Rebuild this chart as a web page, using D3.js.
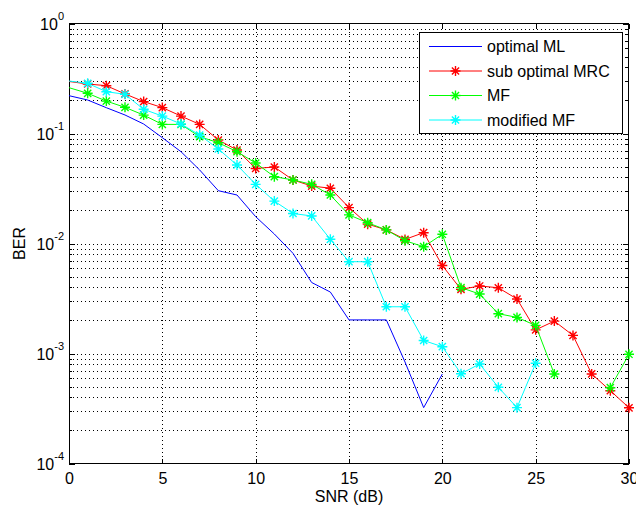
<!DOCTYPE html>
<html>
<head>
<meta charset="utf-8">
<script src="https://cdn.jsdelivr.net/npm/d3@7"></script>
<style>
html,body{margin:0;padding:0;background:#fff;}
svg{display:block;font-family:"Liberation Sans",Arial,sans-serif;}
</style>
</head>
<body>
<svg id="chart" width="636" height="513"></svg>
<script>
const snr = d3.range(0, 31);
const optimalML = [0.2207,0.2016,0.1716,0.1473,0.122,0.0916,0.0683,0.0466,0.0302,0.0276,0.01753,0.0122,0.00814,0.00442,0.00362,0.00202,0.00202,0.00202,0.000837,0.000322,0.000651,
  null,null,null,null,null,null,null,null,null,null];
const subOptimalMRC = [0.297,0.282,0.272,0.229,0.195,0.172,0.144,0.121,0.0873,0.0708,0.0481,0.0496,0.0378,0.0333,0.0318,0.0212,0.0150,0.0133,0.0109,0.01254,0.0063,0.00383,0.00411,0.00396,0.00313,0.00164,0.00197,0.00146,0.000652,0.000459,0.000321];
const mf = [0.261,0.232,0.197,0.173,0.147,0.121,0.121,0.0935,0.0825,0.0683,0.0539,0.0405,0.0378,0.0345,0.0276,0.0182,0.01545,0.0133,0.0106,0.00935,0.01213,0.00397,0.00347,0.0023,0.00213,0.0018,0.000651,null,null,0.000489,0.000984];
const modifiedMF = [0.300,0.286,0.240,0.227,0.166,0.144,0.122,0.0969,0.0723,0.0517,0.0345,0.0243,0.01874,0.0178,0.01092,0.00683,0.00683,0.00266,0.00266,0.001313,0.001153,0.000655,0.000803,0.000493,0.000322,0.000815,null,null,null,null,null];

const seriesNames = ["optimal ML","sub optimal MRC","MF","modified MF"];
const seriesColors = ["#0000ff","#ff0000","#00ff00","#00ffff"];
const seriesMarkers = [false,true,true,true];
const seriesValues = [optimalML, subOptimalMRC, mf, modifiedMF];

const xTicks = [0,5,10,15,20,25,30];
const yExps = [0,-1,-2,-3,-4];
const xLabel = "SNR (dB)";
const yLabel = "BER";

const svg = d3.select("#chart");
const L = 69, R = 629, T = 23.5, B = 463.5;
const x = d3.scaleLinear().domain([0,30]).range([L,R]);
const y = d3.scaleLog().domain([1e-4,1]).range([B,T]);

// grid
const minorVals = [];
for (let e=-4; e<0; e++) for (let k=2; k<=9; k++) minorVals.push(k*Math.pow(10,e));
const majorVals = yExps.map(e=>Math.pow(10,e));
const grid = svg.append("g").attr("stroke","#000").attr("stroke-width",1)
  .attr("stroke-dasharray","1,3").attr("shape-rendering","crispEdges");
const hGridVals = minorVals.concat(majorVals.filter(v=>v<1 && v>1e-4));
grid.selectAll("line.h").data(hGridVals).join("line")
  .attr("x1",L).attr("x2",R)
  .attr("y1",d=>Math.round(y(d))+0.5).attr("y2",d=>Math.round(y(d))+0.5);
grid.selectAll("line.v").data(xTicks.filter(v=>v>0&&v<30)).join("line")
  .attr("class","v")
  .attr("y1",T).attr("y2",B)
  .attr("x1",d=>Math.round(x(d))+0.5).attr("x2",d=>Math.round(x(d))+0.5);

// axes
function styleAxis(g){
  g.select(".domain").remove();
  g.selectAll("line").attr("stroke","#000").attr("shape-rendering","crispEdges");
}
svg.append("g").attr("transform",`translate(0,${B})`)
  .call(d3.axisBottom(x).tickValues(xTicks).tickSize(-5).tickPadding(9).tickFormat(d3.format("d")))
  .call(styleAxis)
  .call(g=>g.selectAll("text").attr("font-size",16).attr("fill","#000").attr("font-family","Liberation Sans, Arial, sans-serif"));
svg.append("g").attr("transform",`translate(0,${T})`)
  .call(d3.axisTop(x).tickValues(xTicks).tickSize(-5).tickFormat(""))
  .call(styleAxis);
svg.append("g").attr("transform",`translate(${L},0)`)
  .call(d3.axisLeft(y).tickValues(majorVals).tickSize(-6).tickFormat(""))
  .call(styleAxis);
svg.append("g").attr("transform",`translate(${L},0)`)
  .call(d3.axisLeft(y).tickValues(minorVals).tickSize(-3).tickFormat(""))
  .call(styleAxis);
svg.append("g").attr("transform",`translate(${R},0)`)
  .call(d3.axisRight(y).tickValues(majorVals).tickSize(-6).tickFormat(""))
  .call(styleAxis);
svg.append("g").attr("transform",`translate(${R},0)`)
  .call(d3.axisRight(y).tickValues(minorVals).tickSize(-3).tickFormat(""))
  .call(styleAxis);

// box
svg.append("rect").attr("x",L+0.5).attr("y",T).attr("width",R-L-1).attr("height",B-T)
  .attr("fill","none").attr("stroke","#000").attr("stroke-width",1).attr("shape-rendering","crispEdges");

// y tick labels with superscripts
const yl = svg.append("g").attr("font-size",16).attr("fill","#000");
yExps.forEach(e=>{
  const t = yl.append("text").attr("x",64).attr("y",y(Math.pow(10,e))+6).attr("text-anchor","end");
  t.append("tspan").text("10");
  t.append("tspan").attr("dy",-10).attr("font-size",11).text(String(e));
});

// axis labels
svg.append("text").attr("x",x(15)).attr("y",502).attr("text-anchor","middle")
  .attr("font-size",16).text(xLabel);
svg.append("text").attr("transform",`translate(25,${(T+B)/2}) rotate(-90)`).attr("text-anchor","middle")
  .attr("font-size",16).text(yLabel);

// series
function asterisk(g, cx, cy, r, color){
  const d = r*0.72;
  const p = `M${cx-r},${cy}L${cx+r},${cy}M${cx},${cy-r}L${cx},${cy+r}M${cx-d},${cy-d}L${cx+d},${cy+d}M${cx-d},${cy+d}L${cx+d},${cy-d}`;
  g.append("path").attr("d",p).attr("stroke",color).attr("stroke-width",1.4).attr("fill","none");
}
const line = d3.line().defined(d=>d.v!=null).x(d=>x(d.x)).y(d=>y(d.v));
seriesValues.forEach((vals,i)=>{
  const pts = snr.map((s,j)=>({x:s, v:vals[j]}));
  const g = svg.append("g");
  g.append("path").datum(pts).attr("d",line).attr("fill","none")
    .attr("stroke",seriesColors[i]).attr("stroke-width",1);
  if (seriesMarkers[i]) {
    pts.filter(p=>p.v!=null && p.x>0).forEach(p=>asterisk(g, x(p.x), y(p.v), 5, seriesColors[i]));
  }
});

// legend
const lg = svg.append("g");
lg.append("rect").attr("x",419.5).attr("y",32.5).attr("width",203).attr("height",101)
  .attr("fill","#fff").attr("stroke","#000").attr("stroke-width",1).attr("shape-rendering","crispEdges");
const rowY = [46.5,71,95.5,120];
seriesNames.forEach((n,i)=>{
  lg.append("line").attr("x1",429).attr("x2",482).attr("y1",rowY[i]).attr("y2",rowY[i])
    .attr("stroke",seriesColors[i]).attr("stroke-width",1);
  if (seriesMarkers[i]) asterisk(lg, 455.5, rowY[i], 5, seriesColors[i]);
  lg.append("text").attr("x",487).attr("y",rowY[i]+5.5).attr("font-size",16).attr("fill","#000").text(n);
});
</script>
</body>
</html>
